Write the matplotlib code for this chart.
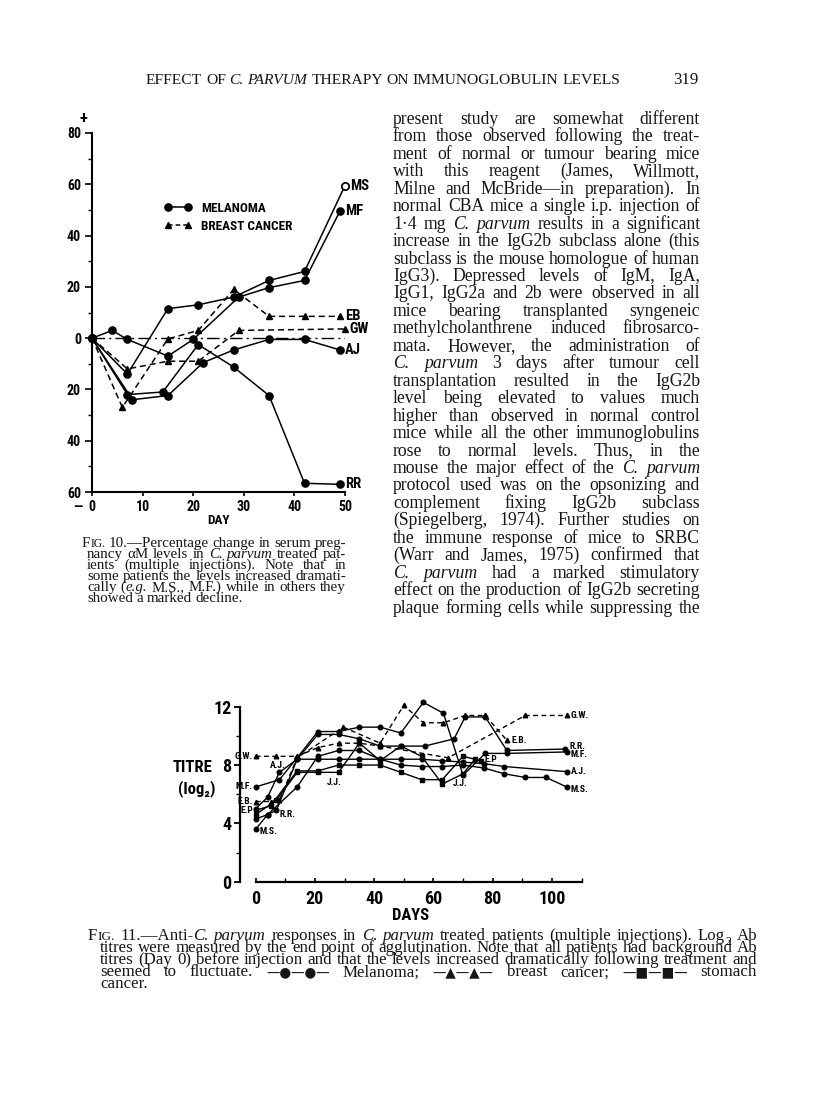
import matplotlib
matplotlib.use('Agg')
import matplotlib.pyplot as plt
from matplotlib import font_manager
from matplotlib.font_manager import FontProperties, findfont
from matplotlib.ticker import MultipleLocator, FuncFormatter, FixedLocator
from matplotlib.lines import Line2D
from matplotlib.legend_handler import HandlerLine2D

# ---------------- data : Fig. 10 (percentage change, pregnancy alpha M) ----------------
f10_ms_day = [0, 7, 15, 21, 28, 35, 42, 50]
f10_ms_val = [0, -14, 11.5, 13, 16, 22.5, 26, 59.5]
f10_mf_day = [0, 4, 7, 15, 20, 29, 35, 42, 49]
f10_mf_val = [0, 3, -0.5, -7, -0.5, 16, 19.7, 22.5, 49.5]
f10_rr_day = [0, 7, 14, 21, 28, 35, 42, 49]
f10_rr_val = [0, -22, -21, -2.5, -11.3, -22.4, -56.6, -57]
f10_aj_day = [0, 8, 15, 22, 28, 35, 42, 49]
f10_aj_val = [0, -24, -22.4, -9.5, -4.6, -0.5, -0.5, -4.6]
f10_eb_day = [0, 6, 15, 21, 28, 35, 42, 49]
f10_eb_val = [0, -27, -0.3, 3, 19, 8.5, 8.5, 8.5]
f10_gw_day = [0, 7, 15, 21, 29, 50]
f10_gw_val = [0, -12, -9, -9, 3, 3.6]
f10_yticks = [-60, -40, -20, 0, 20, 40, 60, 80]
f10_xticks = [0, 10, 20, 30, 40, 50]

# ---------------- data : Fig. 11 (anti C. parvum titres, log2) ----------------
f11_ms_day = [0, 4, 14, 21, 28, 35, 42, 49, 56, 63, 70, 77, 84, 91, 98, 105]
f11_ms_val = [3.6, 4.6, 6.5, 8.6, 9.0, 9.0, 8.4, 8.0, 7.9, 7.9, 8.0, 7.8, 7.4, 7.15, 7.15, 6.5]
f11_aj_day = [0, 4, 8, 14, 21, 28, 35, 42, 49, 56, 63, 70, 77, 84, 105]
f11_aj_val = [5.0, 5.8, 7.5, 8.4, 8.4, 8.4, 8.4, 8.4, 8.4, 8.4, 8.3, 8.2, 8.1, 7.9, 7.55]
f11_mf_day = [0, 8, 14, 21, 28, 35, 42, 49, 56.6, 63.4, 70, 77.5, 84.8, 105]
f11_mf_val = [6.5, 7.0, 8.5, 10.3, 10.3, 10.6, 10.6, 10.2, 12.3, 11.55, 7.3, 8.8, 8.8, 8.9]
f11_rr_day = [0, 4, 7, 14, 21, 28, 35, 42, 49, 57, 67, 70.7, 77.5, 84.8, 104.5]
f11_rr_val = [4.3, 4.6, 4.9, 8.4, 10.1, 10.1, 9.8, 9.3, 9.3, 9.3, 9.8, 11.3, 11.3, 9.0, 9.1]
f11_gw_day = [0, 7, 14, 21, 28, 35, 42, 65, 91, 105]
f11_gw_val = [8.6, 8.6, 8.6, 9.2, 9.5, 9.5, 9.3, 8.5, 11.4, 11.4]
f11_eb_day = [0, 5, 8, 14, 29.6, 42, 50, 56.6, 63.4, 70.7, 77.5, 84.8]
f11_eb_val = [5.5, 5.5, 5.6, 8.5, 10.6, 9.5, 12.1, 10.9, 10.9, 11.4, 11.4, 9.7]
f11_ep_day = [0, 5, 14, 21, 28, 35, 42, 49, 56, 63, 70, 76]
f11_ep_val = [4.9, 5.2, 7.6, 7.6, 8.0, 8.0, 8.0, 7.5, 7.0, 7.0, 8.6, 8.3]
f11_jj_day = [0, 7, 14, 21, 28, 35, 42, 49, 56, 63, 70, 74]
f11_jj_val = [4.6, 5.6, 7.5, 7.5, 7.5, 9.5, 8.3, 9.3, 8.6, 6.7, 7.4, 8.4]
f11_yticks = [0, 4, 8, 12]
f11_xticks = [0, 20, 40, 60, 80, 100]

# ---------------- page text ----------------
# markup: *italic*  ~small caps~  #symbol font#  _subscript_
header_text = "EFFECT OF *C. PARVUM* THERAPY ON IMMUNOGLOBULIN LEVELS"
page_number = "319"
body_lines = [
    "present study are somewhat different",
    "from those observed following the treat-",
    "ment of normal or tumour bearing mice",
    "with this reagent (James, Willmott,",
    "Milne and McBride\u2014in preparation).  In",
    "normal CBA mice a single i.p. injection of",
    "1\u00b74 mg *C. parvum* results in a significant",
    "increase in the IgG2b subclass alone (this",
    "subclass is the mouse homologue of human",
    "IgG3).  Depressed levels of IgM, IgA,",
    "IgG1, IgG2a and 2b were observed in all",
    "mice bearing transplanted syngeneic",
    "methylcholanthrene induced fibrosarco-",
    "mata.  However, the administration of",
    "*C. parvum* 3 days after tumour cell",
    "transplantation resulted in the IgG2b",
    "level being elevated to values much",
    "higher than observed in normal control",
    "mice while all the other immunoglobulins",
    "rose to normal levels.  Thus, in the",
    "mouse the major effect of the *C. parvum*",
    "protocol used was on the opsonizing and",
    "complement fixing IgG2b subclass",
    "(Spiegelberg, 1974).  Further studies on",
    "the immune response of mice to SRBC",
    "(Warr and James, 1975) confirmed that",
    "*C. parvum* had a marked stimulatory",
    "effect on the production of IgG2b secreting",
    "plaque forming cells while suppressing the",
]
cap10_lines = [
    "F~IG.~ 10.\u2014Percentage change in serum preg-",
    "nancy \u03b1M levels in *C. parvum* treated pat-",
    "ients (multiple injections).  Note that in",
    "some patients the levels increased dramati-",
    "cally (*e.g.* M.S., M.F.) while in others they",
    "showed a marked decline.",
]
cap11_lines = [
    "F~IG.~ 11.\u2014Anti-*C. parvum* responses in *C. parvum* treated patients (multiple injections).   Log_2_ Ab",
    "titres were measured by the end point of agglutination.   Note that all patients had background Ab",
    "titres (Day 0) before injection and that the levels increased dramatically following treatment and",
    "seemed to fluctuate.  #\u2014\u25cf\u2014\u25cf\u2014# Melanoma; #\u2014\u25b2\u2014\u25b2\u2014# breast cancer; #\u2014\u25a0\u2014\u25a0\u2014# stomach",
    "cancer.",
]

# ---------------- fonts ----------------
W, H = 816, 1104
entries = font_manager.fontManager.ttflist
names = {f.name for f in entries}
stretch = 'normal'
if 'Liberation Sans Narrow' in names:
    COND = 'Liberation Sans Narrow'
elif 'Roboto Condensed' in names:
    COND = 'Roboto Condensed'
elif any(f.name == 'DejaVu Sans' and str(f.stretch) in ('condensed', 'semi-condensed')
         for f in entries):
    COND = 'DejaVu Sans'
    stretch = 'condensed'
elif 'Roboto' in names:
    COND = 'Roboto'
else:
    COND = 'DejaVu Sans'
plt.rcParams['font.family'] = [COND, 'DejaVu Sans']
plt.rcParams['font.weight'] = 'bold'
plt.rcParams['font.stretch'] = stretch
plt.rcParams['axes.labelweight'] = 'bold'


def ffile(family, style='normal'):
    return findfont(FontProperties(family=family, style=style, weight='normal',
                                   stretch='normal'), fallback_to_default=True)


SERIF_R = ffile('Liberation Serif')
SERIF_I = ffile('Liberation Serif', 'italic')
SYM = ffile('DejaVu Sans')
INK = '#151515'

fig = plt.figure(figsize=(W / 100, H / 100), dpi=100)
fig.patch.set_facecolor('white')
renderer = fig.canvas.get_renderer()


def fx(x):
    return x / W


def fy(y):
    return 1 - y / H


def props(part, size):
    t, it, sc, sym, sub = part
    s = size * (0.78 if sc else 1.0) * (0.7 if sub else 1.0) * (0.8 if sym else 1.0)
    path = SYM if sym else (SERIF_I if it else SERIF_R)
    return FontProperties(fname=path, size=s)


_cache = {}


def measure_text(t, fp):
    key = (t, fp.get_file(), round(fp.get_size_in_points(), 3))
    if key not in _cache:
        tt = fig.text(0, 0, t, fontproperties=fp)
        _cache[key] = tt.get_window_extent(renderer).width
        tt.remove()
    return _cache[key]


def parse(line):
    words, cur, buf = [], [], ''
    st = {'*': False, '~': False, '#': False, '_': False}
    for ch in line:
        if ch in st:
            if buf:
                cur.append((buf, st['*'], st['~'], st['#'], st['_']))
                buf = ''
            st[ch] = not st[ch]
        elif ch == ' ' and not st['#']:
            if buf:
                cur.append((buf, st['*'], st['~'], st['#'], st['_']))
                buf = ''
            if cur:
                words.append(cur)
                cur = []
        else:
            buf += ch
    if buf:
        cur.append((buf, st['*'], st['~'], st['#'], st['_']))
    if cur:
        words.append(cur)
    return words


def space_w(size):
    fp = FontProperties(fname=SERIF_R, size=size)
    return measure_text('n n', fp) - measure_text('nn', fp)


def natural_width(line, size):
    words = parse(line)
    return (sum(measure_text(p[0], props(p, size)) for w in words for p in w)
            + space_w(size) * (len(words) - 1))


def draw_line(line, x0, x1, y, size, justify=True):
    words = parse(line)
    widths = [[measure_text(p[0], props(p, size)) for p in w] for w in words]
    tot = sum(sum(ws) for ws in widths)
    gap = (x1 - x0 - tot) / (len(words) - 1) if (justify and len(words) > 1) else space_w(size)
    x = x0
    for w, ws in zip(words, widths):
        xx = x
        for p, pw in zip(w, ws):
            dy = size * 0.35 if p[4] else 0
            fig.text(fx(xx), fy(y + dy), p[0], fontproperties=props(p, size),
                     ha='left', va='baseline', color=INK)
            xx += pw
        x += sum(ws) + gap


def fit_size(lines, width, base=10.0):
    m = max(natural_width(l, base) for l in lines)
    return base * width / m * 0.995


# header
hs = 10.0 * (620 - 146) / natural_width(header_text, 10.0)
draw_line(header_text, 146, 620, 84, hs, justify=True)
fig.text(fx(699), fy(84), page_number, fontproperties=FontProperties(fname=SERIF_R, size=hs * 1.1),
         ha='right', va='baseline', color=INK)

# body column
bs = fit_size(body_lines, 700 - 393)
for i, l in enumerate(body_lines):
    draw_line(l, 393, 700, 124 + 17.45 * i, bs, justify=True)

# caption Fig. 10
cs = fit_size(cap10_lines[1:-1], 346 - 87)
for i, l in enumerate(cap10_lines):
    x0 = 82 if i == 0 else 87
    draw_line(l, x0, 346, 546.5 + 11.2 * i, cs, justify=(i < len(cap10_lines) - 1))

# caption Fig. 11
cs2 = fit_size(cap11_lines[1:-2], 757 - 100)
for i, l in enumerate(cap11_lines):
    x0 = 88 if i == 0 else 100
    draw_line(l, x0, 757, 940.5 + 12.0 * i, cs2, justify=(i < len(cap11_lines) - 1))

# ================= Fig. 10 chart =================
LW = 1.1
ax1 = fig.add_axes([fx(92), fy(492), (345 - 92) / W, (492 - 133) / H])
ax1.set_xlim(0, 50)
ax1.set_ylim(-60, 80)
for s in ['top', 'right']:
    ax1.spines[s].set_visible(False)
for s in ['left', 'bottom']:
    ax1.spines[s].set_linewidth(1.5)
ax1.yaxis.set_major_locator(FixedLocator(f10_yticks))
ax1.yaxis.set_minor_locator(MultipleLocator(10))
ax1.yaxis.set_major_formatter(FuncFormatter(lambda v, p: f"{abs(int(round(v)))}"))
ax1.xaxis.set_major_locator(FixedLocator(f10_xticks))
ax1.tick_params(axis='y', which='major', length=5, width=1.2, pad=3, labelsize=10)
ax1.tick_params(axis='y', which='minor', length=3, width=1.0)
ax1.tick_params(axis='x', which='major', length=3, width=1.2, pad=3, labelsize=10)
ax1.axhline(0, color='k', lw=1.0, ls=(0, (9, 3, 1.5, 3)), zorder=1)

mel_kw = dict(color='k', lw=LW, marker='o', ms=5.2, clip_on=False, zorder=3)
br_kw = dict(color='k', lw=LW, ls=(0, (4, 2.5)), marker='^', ms=4.8, clip_on=False, zorder=3)
ax1.plot(f10_ms_day, f10_ms_val, **mel_kw)
ax1.plot(f10_ms_day[-1:], f10_ms_val[-1:], ls='none', marker='o', ms=5.2, mfc='white',
         mec='k', mew=1.2, clip_on=False, zorder=4)
ax1.plot(f10_mf_day, f10_mf_val, **mel_kw)
ax1.plot(f10_rr_day, f10_rr_val, **mel_kw)
ax1.plot(f10_aj_day, f10_aj_val, **mel_kw)
ax1.plot(f10_eb_day, f10_eb_val, **br_kw)
ax1.plot(f10_gw_day, f10_gw_val, **br_kw)

lab_kw = dict(textcoords='offset points', va='center', ha='left', fontsize=10.5,
              annotation_clip=False)
for name, d, v in [('MS', f10_ms_day, f10_ms_val), ('MF', f10_mf_day, f10_mf_val),
                   ('EB', f10_eb_day, f10_eb_val), ('GW', f10_gw_day, f10_gw_val),
                   ('AJ', f10_aj_day, f10_aj_val), ('RR', f10_rr_day, f10_rr_val)]:
    ax1.annotate(name, (d[-1], v[-1]), xytext=(3.5, 0), **lab_kw)

handles = [Line2D([], [], color='k', lw=LW, marker='o', ms=5.2),
           Line2D([], [], color='k', lw=LW, ls=(0, (3, 2)), marker='^', ms=4.5)]
hmap = {h: HandlerLine2D(numpoints=2, marker_pad=0.85) for h in handles}
ax1.legend(handles, ['MELANOMA', 'BREAST CANCER'], loc='upper left',
           bbox_to_anchor=((157 - 92) / 253, (492 - 202) / 359), frameon=False,
           handler_map=hmap, handlelength=3.2, handletextpad=0.15, labelspacing=0.35,
           borderpad=0, borderaxespad=0, prop=dict(size=9.5, weight='bold'))
fig.text(fx(83), fy(118), '+', fontsize=12, ha='center', va='center')
fig.text(fx(78), fy(507), '\u2014', fontsize=10, ha='center', va='center')
fig.text(fx(218), fy(521), 'DAY', fontsize=9.5, ha='center', va='center')

# ================= Fig. 11 chart =================
ax2 = fig.add_axes([fx(240), fy(881.7), (581.5 - 240) / W, 12.3 * 14.58 / H])
ax2.set_xlim(-5.3, 110)
ax2.set_ylim(0, 12.3)
for s in ['top', 'right']:
    ax2.spines[s].set_visible(False)
for s in ['left', 'bottom']:
    ax2.spines[s].set_linewidth(1.6)
ax2.spines['bottom'].set_bounds(0, 110)
ax2.spines['left'].set_bounds(0, 12)
ax2.yaxis.set_major_locator(FixedLocator(f11_yticks))
ax2.yaxis.set_minor_locator(MultipleLocator(2))
ax2.xaxis.set_major_locator(FixedLocator(f11_xticks))
ax2.xaxis.set_minor_locator(MultipleLocator(10))
ax2.tick_params(axis='y', which='major', length=4, width=1.3, pad=2, labelsize=13)
ax2.tick_params(axis='y', which='minor', length=3, width=1.0)
ax2.tick_params(axis='x', which='major', length=3, width=1.2, direction='in', pad=6,
                labelsize=13)
ax2.tick_params(axis='x', which='minor', length=3, width=1.0, direction='in')
ax2.set_xlabel('DAYS', fontsize=12, labelpad=0)
fig.text(fx(193), fy(768), 'TITRE', fontsize=12, ha='center', va='center', fontweight='bold')
fig.text(fx(197), fy(789), '(log\u2082)', fontsize=12, ha='center', va='center',
         fontweight='bold', family=[COND, 'DejaVu Sans'])

LW2 = 1.0
m2 = dict(color='k', lw=LW2, marker='o', ms=3.3, clip_on=False, zorder=3)
b2 = dict(color='k', lw=LW2, ls=(0, (3.5, 2.5)), marker='^', ms=3.3, clip_on=False, zorder=3)
s2 = dict(color='k', lw=LW2, marker='s', ms=3.0, clip_on=False, zorder=3)
ax2.plot(f11_ms_day, f11_ms_val, **m2)
ax2.plot(f11_aj_day, f11_aj_val, **m2)
ax2.plot(f11_mf_day, f11_mf_val, **m2)
ax2.plot(f11_rr_day, f11_rr_val, **m2)
ax2.plot(f11_gw_day, f11_gw_val, **b2)
ax2.plot(f11_eb_day, f11_eb_val, **b2)
ax2.plot(f11_ep_day, f11_ep_val, **s2)
ax2.plot(f11_jj_day, f11_jj_val, **s2)

sl = dict(textcoords='offset points', fontsize=6.8, annotation_clip=False)
# starting labels
ax2.annotate('G.W.', (f11_gw_day[0], f11_gw_val[0]), xytext=(-2, 0), ha='right', va='center', **sl)
ax2.annotate('M.F.', (f11_mf_day[0], f11_mf_val[0]), xytext=(-2, 0), ha='right', va='center', **sl)
ax2.annotate('E.B.', (f11_eb_day[0], f11_eb_val[0]), xytext=(-2, 0), ha='right', va='center', **sl)
ax2.annotate('E.P', (f11_ep_day[0], f11_ep_val[0]), xytext=(-2, 0), ha='right', va='center', **sl)
ax2.annotate('M.S.', (f11_ms_day[0], f11_ms_val[0]), xytext=(3, -2), ha='left', va='center', **sl)
ax2.annotate('R.R.', (f11_rr_day[2], f11_rr_val[2]), xytext=(2, -3), ha='left', va='center', **sl)
ax2.annotate('A.J.', (f11_aj_day[2], f11_aj_val[2]), xytext=(-1, 5), ha='center', va='center', **sl)
# end labels
ax2.annotate('G.W.', (f11_gw_day[-1], f11_gw_val[-1]), xytext=(3, 0), ha='left', va='center', **sl)
ax2.annotate('R.R.', (f11_rr_day[-1], f11_rr_val[-1]), xytext=(3, 2), ha='left', va='center', **sl)
ax2.annotate('M.F.', (f11_mf_day[-1], f11_mf_val[-1]), xytext=(3, -2), ha='left', va='center', **sl)
ax2.annotate('A.J.', (f11_aj_day[-1], f11_aj_val[-1]), xytext=(3, 0), ha='left', va='center', **sl)
ax2.annotate('M.S.', (f11_ms_day[-1], f11_ms_val[-1]), xytext=(3, -2), ha='left', va='center', **sl)
ax2.annotate('E.B.', (f11_eb_day[-1], f11_eb_val[-1]), xytext=(3, 0), ha='left', va='center', **sl)
ax2.annotate('E.P', (f11_ep_day[-1], f11_ep_val[-1]), xytext=(3, 1), ha='left', va='center', **sl)
ax2.annotate('J.J.', (f11_jj_day[4], f11_jj_val[4]), xytext=(-3, -7), ha='center', va='center', **sl)
ax2.annotate('J.J.', (f11_jj_day[10], f11_jj_val[10]), xytext=(-2, -7), ha='center', va='center', **sl)

fig.savefig('out.png', dpi=100, facecolor='white')
